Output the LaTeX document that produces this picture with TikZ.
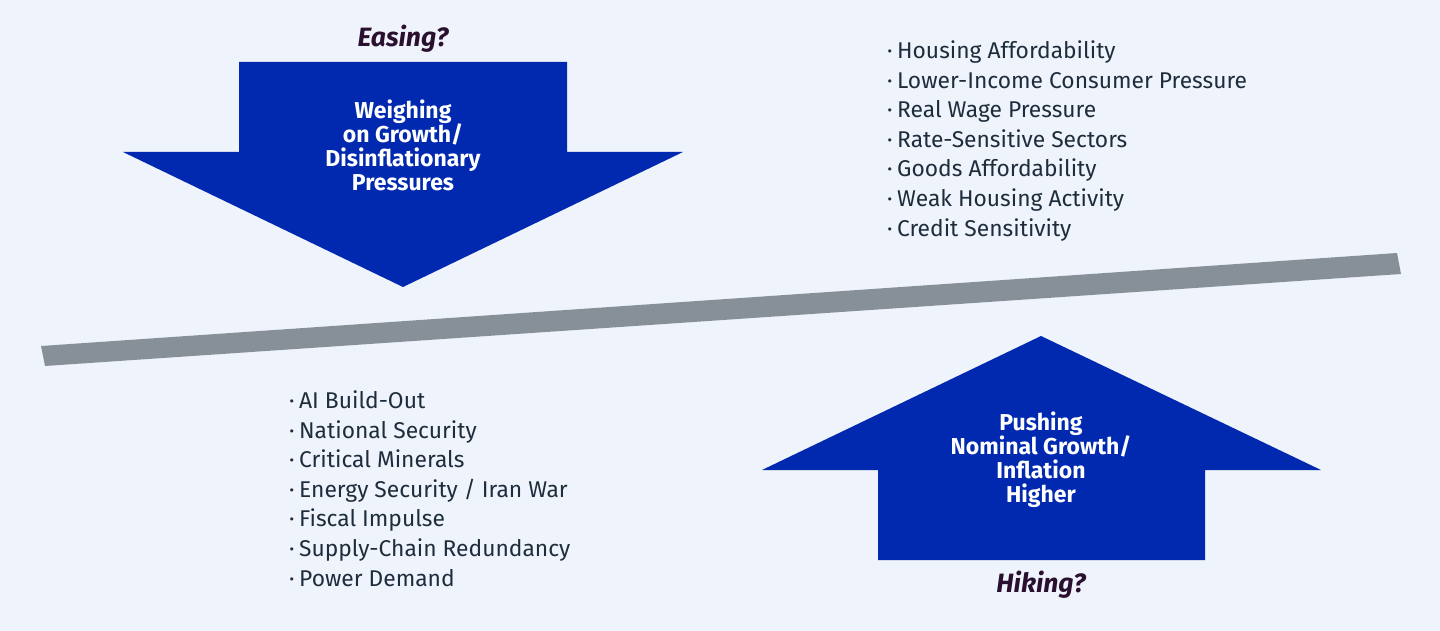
\documentclass[tikz,border=0pt]{standalone}
\usepackage{fontspec}
\setmainfont{Fira Sans}
\definecolor{bg}{RGB}{239,243,251}
\definecolor{arrowblue}{RGB}{0,41,176}
\definecolor{beamgray}{RGB}{135,144,152}
\definecolor{listtext}{RGB}{30,45,60}
\definecolor{qtext}{RGB}{42,16,46}
\newcommand{\itm}{·\hspace{4.5pt}}
\tikzset{
  bigarrow/.style={fill=arrowblue, draw=none},
  arrowlabel/.style={text=white, font=\bfseries\fontsize{23}{24}\selectfont, align=center, inner sep=0pt, anchor=base},
  question/.style={text=qtext, font=\bfseries\itshape\fontsize{26.5}{30}\selectfont, inner sep=0pt, anchor=base},
  bulletlist/.style={text=listtext, font=\fontsize{22.8}{29.6}\selectfont, align=left, inner sep=0pt, anchor=base west},
}
\begin{document}
\begin{tikzpicture}[x=1pt,y=-1pt]
\path[fill=bg,use as bounding box] (0,0) rectangle (1440,631);
% beam
\path[fill=beamgray] (41,346) -- (1397,253) -- (1401,274) -- (45,366) -- cycle;
% down arrow
\path[bigarrow] (239,62) -- (567,62) -- (567,152) -- (683,152) -- (403,287) -- (123,152) -- (239,152) -- cycle;
% up arrow
\path[bigarrow] (878,560) -- (1205,560) -- (1205,470) -- (1321,470) -- (1041,336) -- (762,470) -- (878,470) -- cycle;
% labels (anchor base = baseline of last line)
\node[arrowlabel] (down) at (403,190.5) {Weighing\\on Growth/\\Disinflationary\\Pressures};
\node[arrowlabel] (up) at (1041,502.5) {Pushing\\Nominal Growth/\\Inflation\\Higher};
\node[question] (easing) at (403,47) {Easing?};
\node[question] (hiking) at (1041,592) {Hiking?};
% lists
\node[bulletlist] (neg) at (887,236.1) {\itm Housing Affordability\\\itm Lower-Income Consumer Pressure\\\itm Real Wage Pressure\\\itm Rate-Sensitive Sectors\\\itm Goods Affordability\\\itm Weak Housing Activity\\\itm Credit Sensitivity};
\node[bulletlist] (pos) at (289,586.1) {\itm AI Build-Out\\\itm National Security\\\itm Critical Minerals\\\itm Energy Security / Iran War\\\itm Fiscal Impulse\\\itm Supply-Chain Redundancy\\\itm Power Demand};
\end{tikzpicture}
\end{document}
